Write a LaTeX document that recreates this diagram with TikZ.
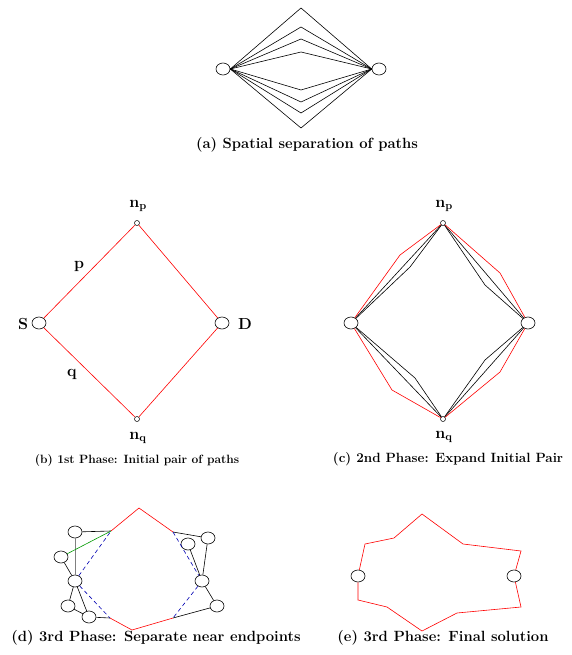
\documentclass[tikz,border=0pt]{standalone}
\usetikzlibrary{shapes.geometric}
\begin{document}
\begin{tikzpicture}[x=1pt,y=-1pt,
  big/.style={ellipse,draw,line width=0.6pt,minimum width=14pt,minimum height=12pt,inner sep=0pt},
  small/.style={circle,draw,line width=0.5pt,minimum size=5pt,inner sep=0pt},
  ln/.style={line width=0.6pt},
  rd/.style={ln,draw=red},
  bk/.style={ln,draw=black},
  bl/.style={ln,draw=blue!70!black,dashed,dash pattern=on 4pt off 3pt},
  gr/.style={ln,draw=green!60!black},
  gy/.style={line width=1pt,draw=gray},
  captxt/.style={inner sep=0pt,font=\fontsize{14.8}{17}\selectfont\bfseries},
  capmd/.style={inner sep=0pt,font=\fontsize{13.4}{16}\selectfont\bfseries},
  capsm/.style={inner sep=0pt,font=\fontsize{12}{14}\selectfont\bfseries},
  lab/.style={inner sep=0pt,font=\fontsize{16}{18}\selectfont\bfseries}]
\useasboundingbox (0,0) rectangle (571,655);

% (a)
\node[big] (aL) at (223,69) {};
\node[big] (aR) at (379,69) {};
\coordinate (a1) at (301,8);
\coordinate (a2) at (301,27);
\coordinate (a3) at (301,39);
\coordinate (a4) at (301,52);
\coordinate (a5) at (301,90);
\coordinate (a6) at (301,102);
\coordinate (a7) at (301,113);
\coordinate (a8) at (301,128);
\foreach \i in {1,...,8} \draw[bk] (aL.east) -- (a\i) -- (aR.west);
\node[captxt] (capa) at (307,145) {(a) Spatial separation of paths};

% (b)
\node[small] (bp) at (137,223) {};
\node[small] (bq) at (137,419) {};
\node[big] (bS) at (39,323) {};
\node[big] (bD) at (222,323) {};
\node[lab] (bpl) at (138,206) {n$_{\mathbf{p}}$};
\node[lab] (bql) at (138,438) {n$_{\mathbf{q}}$};
\node[lab] (bSl) at (23,324) {S};
\node[lab] (bDl) at (245,324) {D};
\node[lab] (bpp) at (79,266) {p};
\node[lab] (bqq) at (72,374) {q};
\draw[rd] (bS) -- (bp) -- (bD) -- (bq) -- (bS);
\node[capsm] (capb) at (137,461) {(b) 1st Phase: Initial pair of paths};

% (c)
\node[small] (cp) at (443,223) {};
\node[small] (cq) at (443,419) {};
\node[big] (cL) at (351,323) {};
\node[big] (cR) at (528,323) {};
\node[lab] (cpl) at (444,206) {n$_{\mathbf{p}}$};
\node[lab] (cql) at (444,437) {n$_{\mathbf{q}}$};
\coordinate (c1) at (400,255);
\coordinate (c2) at (410,267);
\coordinate (c3) at (500,273);
\coordinate (c4) at (485,285);
\coordinate (c5) at (392,390);
\coordinate (c6) at (415,378);
\coordinate (c7) at (500,372);
\coordinate (c8) at (485,360);
\draw[bk] (cL) -- (cp);
\draw[bk] (cL) -- (c2) -- (cp);
\draw[bk] (cp) -- (cR);
\draw[bk] (cp) -- (c4) -- (cR);
\draw[bk] (cL) -- (cq);
\draw[bk] (cL) -- (c6) -- (cq);
\draw[bk] (cq) -- (cR);
\draw[bk] (cq) -- (c8) -- (cR);
\draw[rd] (cL) -- (c1) -- (cp);
\draw[rd] (cp) -- (c3) -- (cR);
\draw[rd] (cL) -- (c5) -- (cq);
\draw[rd] (cq) -- (c7) -- (cR);
\node[capmd] (capc) at (448,459) {(c) 2nd Phase: Expand Initial Pair};

% (d)
\coordinate (d1) at (111,531);
\coordinate (d2) at (139,508);
\coordinate (d3) at (173,532);
\coordinate (d4) at (110,618);
\coordinate (d5) at (132,630);
\coordinate (d6) at (173,618);
\node[big] (dA) at (75,532) {};
\node[big] (dB) at (61,557) {};
\node[big] (dC) at (75,581) {};
\node[big] (dD) at (68,606) {};
\node[big] (dE) at (89,617) {};
\node[big] (dF) at (188,544) {};
\node[big] (dG) at (208,538) {};
\node[big] (dH) at (202,581) {};
\node[big] (dI) at (217,606) {};
\draw[rd] (d1) -- (d2) -- (d3);
\draw[rd] (d4) -- (d5) -- (d6);
\draw[bk] (dA) -- (d1);
\draw[gy] (dA) -- (dC);
\draw[bk] (dB) -- (dC);
\draw[bk] (dC) -- (dD);
\draw[bk] (dC) -- (dE);
\draw[bk] (dD) -- (dE);
\draw[bk] (dE) -- (d4);
\draw[gr] (dB) -- (d1);
\draw[bl] (dC) -- (d1);
\draw[bl] (dC) -- (d4);
\draw[bk] (d3) -- (dG);
\draw[bk] (dF) -- (dH);
\draw[bk] (dG) -- (dH);
\draw[bk] (dH) -- (dI);
\draw[bk] (dI) -- (d6);
\draw[bl] (d3) -- (dH);
\draw[bl] (dH) -- (d6);
\node[captxt] (capd) at (156,638) {(d) 3rd Phase: Separate near endpoints};

% (e)
\node[big] (eL) at (358,576) {};
\node[big] (eR) at (514,576) {};
\coordinate (e1) at (365,544);
\coordinate (e2) at (394,538);
\coordinate (e3) at (422,514);
\coordinate (e4) at (463,544);
\coordinate (e5) at (521,551);
\coordinate (e6) at (358,600);
\coordinate (e7) at (387,607);
\coordinate (e8) at (422,631);
\coordinate (e9) at (457,613);
\coordinate (e10) at (521,607);
\draw[rd] (eL) -- (e1) -- (e2) -- (e3) -- (e4) -- (e5) -- (eR);
\draw[rd] (eL) -- (e6) -- (e7) -- (e8) -- (e9) -- (e10) -- (eR);
\node[captxt] (cape) at (443,638) {(e) 3rd Phase: Final solution};
\end{tikzpicture}
\end{document}
